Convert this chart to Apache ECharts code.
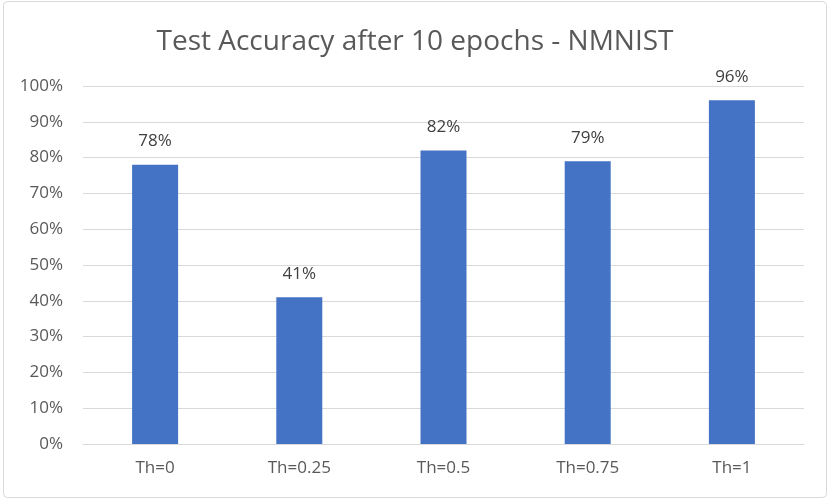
<!DOCTYPE html>
<html><head><meta charset="utf-8">
<script src="https://cdn.jsdelivr.net/npm/echarts@6/dist/echarts.min.js"></script>
<style>html,body{margin:0;padding:0;background:#fff}#c{width:830px;height:503px}</style>
</head><body><div id="c"></div>
<script>
const categories = ['Th=0', 'Th=0.25', 'Th=0.5', 'Th=0.75', 'Th=1'];
const accuracy = [78, 41, 82, 79, 96];
const titleText = 'Test Accuracy after 10 epochs - NMNIST';

const chart = echarts.init(document.getElementById('c'));
chart.setOption({
  animation: false,
  backgroundColor: '#fff',
  title: {
    text: titleText, left: 'center', top: 23,
    textStyle: { fontFamily: 'Open Sans', fontSize: 28, fontWeight: 'normal', color: '#595959' }
  },
  graphic: [{
    type: 'rect', shape: { x: 3.5, y: 1.5, width: 823, height: 496, r: 4 },
    style: { fill: 'none', stroke: '#d9d9d9', lineWidth: 1 }, silent: true
  }],
  grid: { left: 83, right: 26, top: 86, bottom: 59 },
  xAxis: {
    type: 'category', data: categories,
    axisLine: { lineStyle: { color: '#d9d9d9' } },
    axisTick: { show: false },
    axisLabel: { color: '#595959', fontFamily: 'Open Sans', fontSize: 17, margin: 16 }
  },
  yAxis: {
    type: 'value', min: 0, max: 100, interval: 10,
    axisLine: { show: false }, axisTick: { show: false },
    splitLine: { lineStyle: { color: '#d9d9d9' } },
    axisLabel: { color: '#595959', fontFamily: 'Open Sans', fontSize: 17, margin: 20, formatter: '{value}%' }
  },
  series: [{
    type: 'bar', data: accuracy, barWidth: 46,
    itemStyle: { color: '#4472c4' },
    label: { show: true, position: 'top', distance: 15, color: '#404040', fontFamily: 'Open Sans', fontSize: 17, formatter: '{c}%' }
  }]
});
</script></body></html>
